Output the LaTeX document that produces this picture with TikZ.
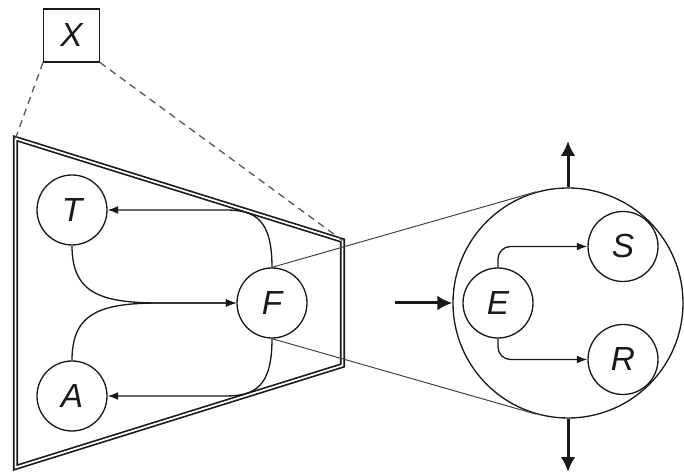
\documentclass[tikz,border=0pt]{standalone}
\usepackage{fontspec}
\setmainfont{Liberation Sans}
\usetikzlibrary{calc,arrows.meta}
\tikzset{
	every node/.append style={font=\fontsize{19}{22}\selectfont\itshape},
	}

\begin{document}
\begin{tikzpicture}[>={Latex[length=6pt,width=4.5pt]},line width=0.75pt,color=black!90]
		% \draw[help lines] (0,0) grid (13,9);
		\path[use as bounding box] (0,0) rectangle (13.68,9.48);
		\tikzstyle{comp}=[draw,circle,minimum size=1.4cm,inner sep=0pt]
		\tikzstyle{bigarrow}=[-{Latex[length=8.5pt,width=8.5pt]},line width=1.7pt]
		
		%% Whole system
		\node[draw,minimum width=1.12cm,minimum height=1.06cm,inner sep=0pt,line width=0.6pt] (X) at (1.43,8.77) {X};
		
		%% Zoomed part
		\coordinate (tl) at (0.31,6.71);
		\coordinate (tr) at (6.85,4.67);
		\coordinate (br) at (6.85,2.17);
		\coordinate (bl) at (0.31,0.13);
		\draw[double,double distance=1pt,line width=0.95pt] (tl) -- (tr) -- (br) -- (bl) -- cycle;
		\draw[dashed,black!65,dash pattern=on 4pt off 3pt] (X.south west) -- (tl);
		\draw[dashed,black!65,dash pattern=on 4pt off 3pt] (X.south east) -- (tr);
		
		\node[comp] (T) at (1.44,5.28) {T};
		\node[comp] (A) at (1.44,1.56) {A};
		\node[comp] (F) at (5.44,3.42) {F};
		\coordinate (join) at (3.2,3.42);
		\coordinate (ft) at (4.5,5.28);
		\coordinate (fa) at (4.5,1.56);
		\draw[->] (T) .. controls (1.44,3.62) and (2.0,3.42) .. (join) -- (F);
		\draw[->] (A) .. controls (1.44,3.22) and (2.0,3.42) .. (join) -- (F);
		\draw[->] (F) .. controls (5.44,5.1) and (5.1,5.28) .. (ft) -- (T);
		\draw[->] (F) .. controls (5.44,1.74) and (5.1,1.56) .. (fa) -- (A);
		
		%% Inside of F
		\node[comp,minimum size=4.6cm] (Z) at (11.36,3.42) {};
		\node[comp] (E) at (9.96,3.42) {E};
		\node[comp] (S) at (12.46,4.55) {S};
		\node[comp] (R) at (12.46,2.29) {R};
		\draw[->,rounded corners=0.25cm] (E) |- (S);
		\draw[->,rounded corners=0.25cm] (E) |- (R);
		\draw[line width=0.55pt,black!75] (F.north) -- (tangent cs:node=Z,point={(F.north)},solution=2);
		\draw[line width=0.55pt,black!75] (F.south) -- (tangent cs:node=Z,point={(F.south)},solution=1);
		
		%% In and out
		\coordinate (in) at (7.90,3.42);
		\coordinate (up) at (11.36,6.66);
		\coordinate (down) at (11.36,0.04);
		\draw[bigarrow] (in) -- (Z);
		\draw[bigarrow] (Z) -- (up);
		\draw[bigarrow] (Z) -- (down);
		
	\end{tikzpicture}
\end{document}
